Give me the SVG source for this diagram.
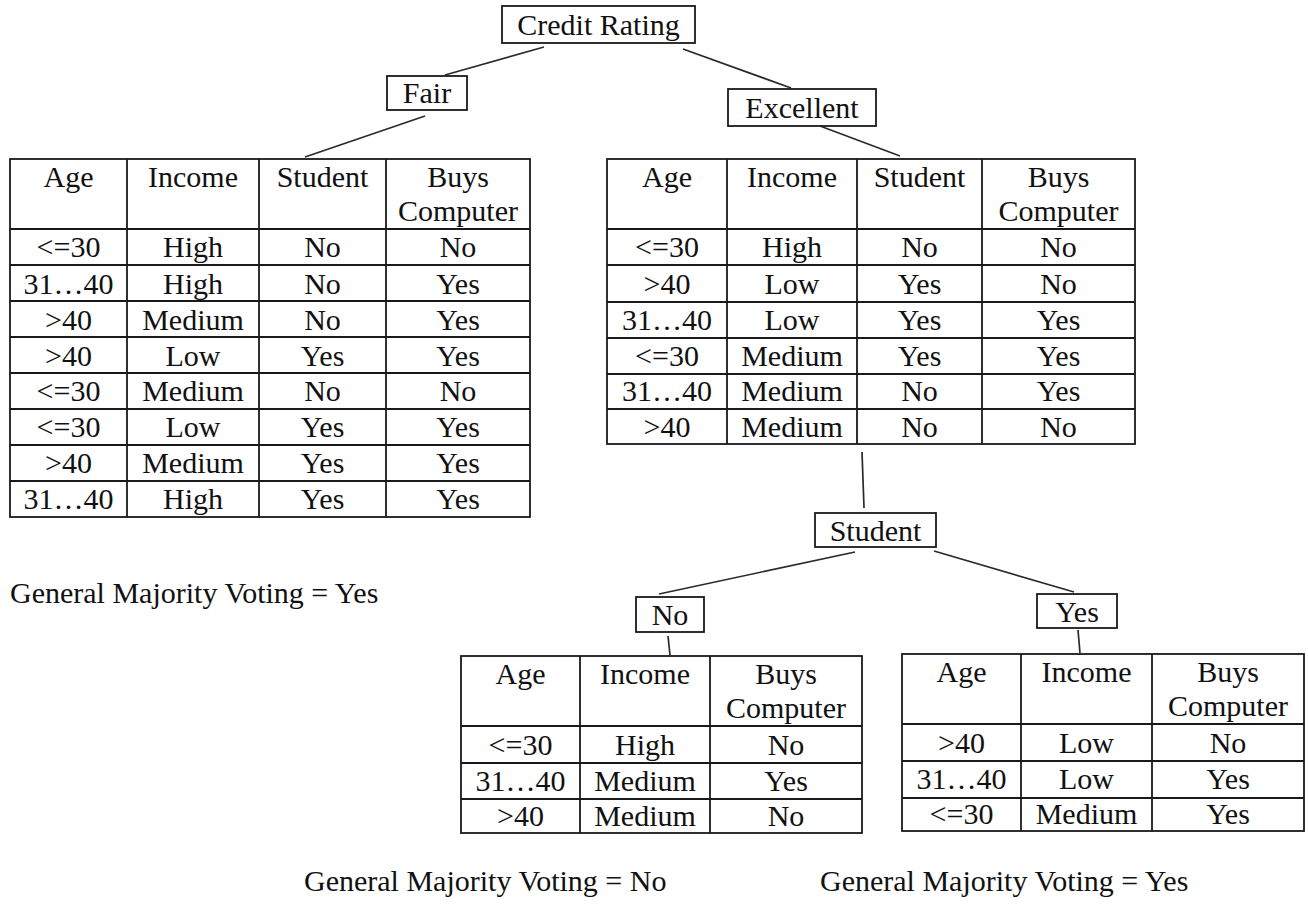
<svg xmlns="http://www.w3.org/2000/svg" width="1308" height="924" viewBox="0 0 1308 924">
  <style>
    .bg { fill: #ffffff; }
    .box { fill: #ffffff; stroke: #1a1a1a; stroke-width: 1.8; }
    .grid { fill: none; stroke: #1a1a1a; stroke-width: 1.8; }
    .edge { stroke: #2a2a2a; stroke-width: 1.7; fill: none; }
    text { font-family: "Liberation Serif", "Times New Roman", serif; font-size: 30px; fill: #111111; }
    .c { text-anchor: middle; }
  </style>
  <rect class="bg" x="0" y="0" width="1308" height="924"/>

  <!-- tree edges -->
  <g id="connectors">
    <line class="edge" x1="544" y1="47" x2="445" y2="75"/>
    <line class="edge" x1="683" y1="49" x2="791" y2="88"/>
    <line class="edge" x1="425" y1="116" x2="305" y2="157"/>
    <line class="edge" x1="820" y1="126" x2="900" y2="156"/>
    <line class="edge" x1="862" y1="452" x2="864" y2="508"/>
    <line class="edge" x1="855" y1="552" x2="659" y2="594"/>
    <line class="edge" x1="934" y1="551" x2="1074" y2="592"/>
    <line class="edge" x1="668" y1="636" x2="670" y2="655"/>
    <line class="edge" x1="1078" y1="630" x2="1080" y2="653"/>
  </g>

  <!-- root -->
  <g id="node-credit-rating">
    <rect class="box" x="502" y="6" width="193" height="37"/>
    <text class="c" x="598.5" y="35">Credit Rating</text>
  </g>

  <g id="node-fair">
    <rect class="box" x="387" y="76" width="80" height="34"/>
    <text class="c" x="427" y="103">Fair</text>
  </g>

  <g id="node-excellent">
    <rect class="box" x="728" y="89" width="148" height="37"/>
    <text class="c" x="802" y="118">Excellent</text>
  </g>

  <!-- Fair partition -->
  <g id="table-fair">
    <rect class="grid" x="10" y="159" width="520" height="358"/>
    <path class="grid" d="M127 159V517M259 159V517M386 159V517M10 229H530M10 265H530M10 301H530M10 337H530M10 373H530M10 409H530M10 445H530M10 481H530"/>
    <text class="c" x="68.5" y="187">Age</text>
    <text class="c" x="193" y="187">Income</text>
    <text class="c" x="322.5" y="187">Student</text>
    <text class="c" x="458" y="187">Buys</text>
    <text class="c" x="458" y="221">Computer</text>

    <text class="c" x="68.5" y="257">&lt;=30</text><text class="c" x="193" y="257">High</text><text class="c" x="322.5" y="257">No</text><text class="c" x="458" y="257">No</text>
    <text class="c" x="68.5" y="294">31…40</text><text class="c" x="193" y="294">High</text><text class="c" x="322.5" y="294">No</text><text class="c" x="458" y="294">Yes</text>
    <text class="c" x="68.5" y="330">&gt;40</text><text class="c" x="193" y="330">Medium</text><text class="c" x="322.5" y="330">No</text><text class="c" x="458" y="330">Yes</text>
    <text class="c" x="68.5" y="366">&gt;40</text><text class="c" x="193" y="366">Low</text><text class="c" x="322.5" y="366">Yes</text><text class="c" x="458" y="366">Yes</text>
    <text class="c" x="68.5" y="401">&lt;=30</text><text class="c" x="193" y="401">Medium</text><text class="c" x="322.5" y="401">No</text><text class="c" x="458" y="401">No</text>
    <text class="c" x="68.5" y="437">&lt;=30</text><text class="c" x="193" y="437">Low</text><text class="c" x="322.5" y="437">Yes</text><text class="c" x="458" y="437">Yes</text>
    <text class="c" x="68.5" y="473">&gt;40</text><text class="c" x="193" y="473">Medium</text><text class="c" x="322.5" y="473">Yes</text><text class="c" x="458" y="473">Yes</text>
    <text class="c" x="68.5" y="509">31…40</text><text class="c" x="193" y="509">High</text><text class="c" x="322.5" y="509">Yes</text><text class="c" x="458" y="509">Yes</text>
  </g>

  <g id="vote-fair">
    <text x="10" y="603">General Majority Voting = Yes</text>
  </g>

  <!-- Excellent partition -->
  <g id="table-excellent">
    <rect class="grid" x="607" y="159" width="528" height="285"/>
    <path class="grid" d="M727 159V444M857 159V444M982 159V444M607 229H1135M607 265H1135M607 302H1135M607 338H1135M607 374H1135M607 409H1135"/>
    <text class="c" x="667" y="187">Age</text>
    <text class="c" x="792" y="187">Income</text>
    <text class="c" x="919.5" y="187">Student</text>
    <text class="c" x="1058.5" y="187">Buys</text>
    <text class="c" x="1058.5" y="221">Computer</text>

    <text class="c" x="667" y="257">&lt;=30</text><text class="c" x="792" y="257">High</text><text class="c" x="919.5" y="257">No</text><text class="c" x="1058.5" y="257">No</text>
    <text class="c" x="667" y="294">&gt;40</text><text class="c" x="792" y="294">Low</text><text class="c" x="919.5" y="294">Yes</text><text class="c" x="1058.5" y="294">No</text>
    <text class="c" x="667" y="330">31…40</text><text class="c" x="792" y="330">Low</text><text class="c" x="919.5" y="330">Yes</text><text class="c" x="1058.5" y="330">Yes</text>
    <text class="c" x="667" y="366">&lt;=30</text><text class="c" x="792" y="366">Medium</text><text class="c" x="919.5" y="366">Yes</text><text class="c" x="1058.5" y="366">Yes</text>
    <text class="c" x="667" y="401">31…40</text><text class="c" x="792" y="401">Medium</text><text class="c" x="919.5" y="401">No</text><text class="c" x="1058.5" y="401">Yes</text>
    <text class="c" x="667" y="437">&gt;40</text><text class="c" x="792" y="437">Medium</text><text class="c" x="919.5" y="437">No</text><text class="c" x="1058.5" y="437">No</text>
  </g>

  <g id="node-student">
    <rect class="box" x="815" y="513" width="121" height="34"/>
    <text class="c" x="875.5" y="541">Student</text>
  </g>

  <g id="node-no">
    <rect class="box" x="636" y="597" width="68" height="35"/>
    <text class="c" x="670" y="625">No</text>
  </g>

  <g id="node-yes">
    <rect class="box" x="1037" y="594" width="80" height="34"/>
    <text class="c" x="1077" y="622">Yes</text>
  </g>

  <!-- Student = No partition -->
  <g id="table-student-no">
    <rect class="grid" x="461" y="656" width="401" height="177"/>
    <path class="grid" d="M580 656V833M710 656V833M461 726H862M461 763H862M461 799H862"/>
    <text class="c" x="520.5" y="684">Age</text>
    <text class="c" x="645" y="684">Income</text>
    <text class="c" x="786" y="684">Buys</text>
    <text class="c" x="786" y="718">Computer</text>
    <text class="c" x="520.5" y="755">&lt;=30</text><text class="c" x="645" y="755">High</text><text class="c" x="786" y="755">No</text>
    <text class="c" x="520.5" y="791">31…40</text><text class="c" x="645" y="791">Medium</text><text class="c" x="786" y="791">Yes</text>
    <text class="c" x="520.5" y="826">&gt;40</text><text class="c" x="645" y="826">Medium</text><text class="c" x="786" y="826">No</text>
  </g>

  <!-- Student = Yes partition -->
  <g id="table-student-yes">
    <rect class="grid" x="902" y="654" width="402" height="177"/>
    <path class="grid" d="M1021 654V831M1152 654V831M902 724H1304M902 761H1304M902 798H1304"/>
    <text class="c" x="961.5" y="682">Age</text>
    <text class="c" x="1086.5" y="682">Income</text>
    <text class="c" x="1228" y="682">Buys</text>
    <text class="c" x="1228" y="716">Computer</text>
    <text class="c" x="961.5" y="753">&gt;40</text><text class="c" x="1086.5" y="753">Low</text><text class="c" x="1228" y="753">No</text>
    <text class="c" x="961.5" y="789">31…40</text><text class="c" x="1086.5" y="789">Low</text><text class="c" x="1228" y="789">Yes</text>
    <text class="c" x="961.5" y="824">&lt;=30</text><text class="c" x="1086.5" y="824">Medium</text><text class="c" x="1228" y="824">Yes</text>
  </g>

  <g id="vote-student-no">
    <text x="304" y="891">General Majority Voting = No</text>
  </g>
  <g id="vote-student-yes">
    <text x="820" y="891">General Majority Voting = Yes</text>
  </g>
</svg>
